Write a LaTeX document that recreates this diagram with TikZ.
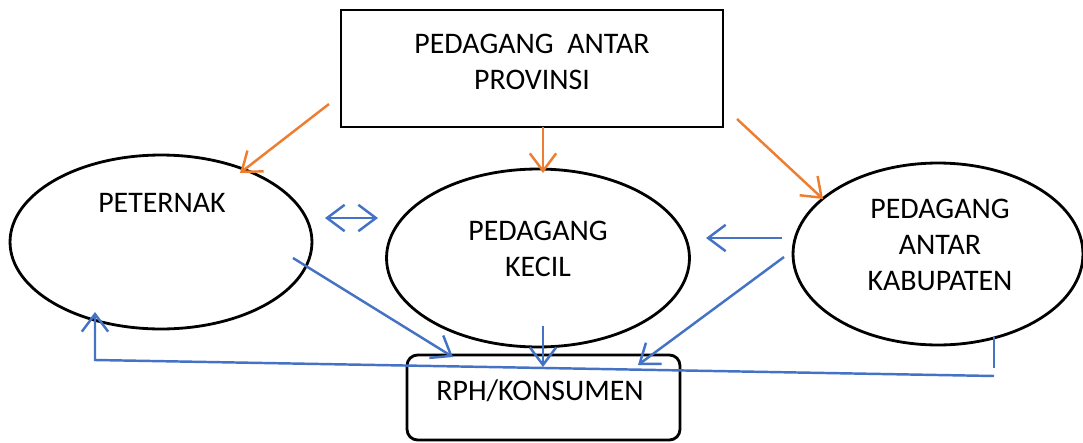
\documentclass[tikz,border=0pt]{standalone}
\usepackage{fontspec}
\setmainfont{Carlito}
\usetikzlibrary{arrows.meta,shapes.geometric}
\definecolor{flowOrange}{HTML}{ED7D31}
\definecolor{flowBlue}{HTML}{4472C4}
\tikzset{
  oval/.style = {draw, ellipse, line width=1.6pt, inner sep=0pt},
  box/.style  = {draw, line width=1.6pt, inner sep=0pt},
  txt/.style  = {font=\fontsize{17}{20.5}\selectfont, align=center, inner sep=0pt},
  tip/.style  = {Straight Barb[length=10pt,width=15pt]},
  aro/.style  = {-{Straight Barb[length=10pt,width=15pt]}, draw=flowOrange, line width=1.4pt},
  arb/.style  = {-{Straight Barb[length=10pt,width=15pt]}, draw=flowBlue, line width=1.4pt},
  lnb/.style  = {draw=flowBlue, line width=1.4pt},
}
\begin{document}
\begin{tikzpicture}[x=0.02cm, y=-0.02cm]
  \useasboundingbox (0,0) rectangle (1083,443);
  % nodes
  \node[box, minimum width=7.64cm, minimum height=2.34cm] (prov) at (532,68.5) {};
  \node[oval, minimum width=6.04cm, minimum height=3.48cm] (peternak) at (161,242) {};
  \node[oval, minimum width=6.06cm, minimum height=3.56cm] (kecil) at (538,258) {};
  \node[oval, minimum width=5.80cm, minimum height=3.64cm] (kab) at (938,254) {};
  \node[box, rounded corners=6pt, minimum width=5.46cm, minimum height=1.70cm] (rph) at (543.5,397.5) {};
  % texts
  \node[txt] (tprov) at (532,62) {PEDAGANG\ \ ANTAR\\PROVINSI};
  \node[txt] (tpet) at (162,203) {PETERNAK};
  \node[txt] (tkec) at (538,249) {PEDAGANG\\KECIL};
  \node[txt] (tkab) at (940,245) {PEDAGANG\\ANTAR\\KABUPATEN};
  \node[txt] (trph) at (540,391) {RPH/KONSUMEN};
  % connector ends
  \coordinate (o1a) at (329,104);  \coordinate (o1b) at (240,173);
  \coordinate (o2a) at (543,127);  \coordinate (o2b) at (543,173);
  \coordinate (o3a) at (737,119);  \coordinate (o3b) at (823,199);
  \coordinate (d1a) at (325,218);  \coordinate (d1b) at (378,218);
  \coordinate (k1a) at (782,238);  \coordinate (k1b) at (706,238);
  \coordinate (p1a) at (293,258);  \coordinate (p1b) at (453,357);
  \coordinate (c1a) at (543,326);  \coordinate (c1b) at (543,367);
  \coordinate (k2a) at (784,257);  \coordinate (k2b) at (638,365);
  \coordinate (r1a) at (994,337);  \coordinate (r1b) at (994,368);
  \coordinate (r2a) at (994,376);  \coordinate (r2b) at (95,360);
  \coordinate (r2c) at (95,312);
  % orange arrows
  \draw[aro] (o1a) -- (o1b);
  \draw[aro] (o2a) -- (o2b);
  \draw[aro] (o3a) -- (o3b);
  % blue arrows
  \draw[arb, {Straight Barb[length=10pt,width=15pt]}-{Straight Barb[length=10pt,width=15pt]}] (d1a) -- (d1b);
  \draw[arb] (k1a) -- (k1b);
  \draw[arb] (p1a) -- (p1b);
  \draw[arb] (c1a) -- (c1b);
  \draw[arb] (k2a) -- (k2b);
  \draw[lnb] (r1a) -- (r1b);
  \draw[arb] (r2a) -- (r2b) -- (r2c);
\end{tikzpicture}
\end{document}
